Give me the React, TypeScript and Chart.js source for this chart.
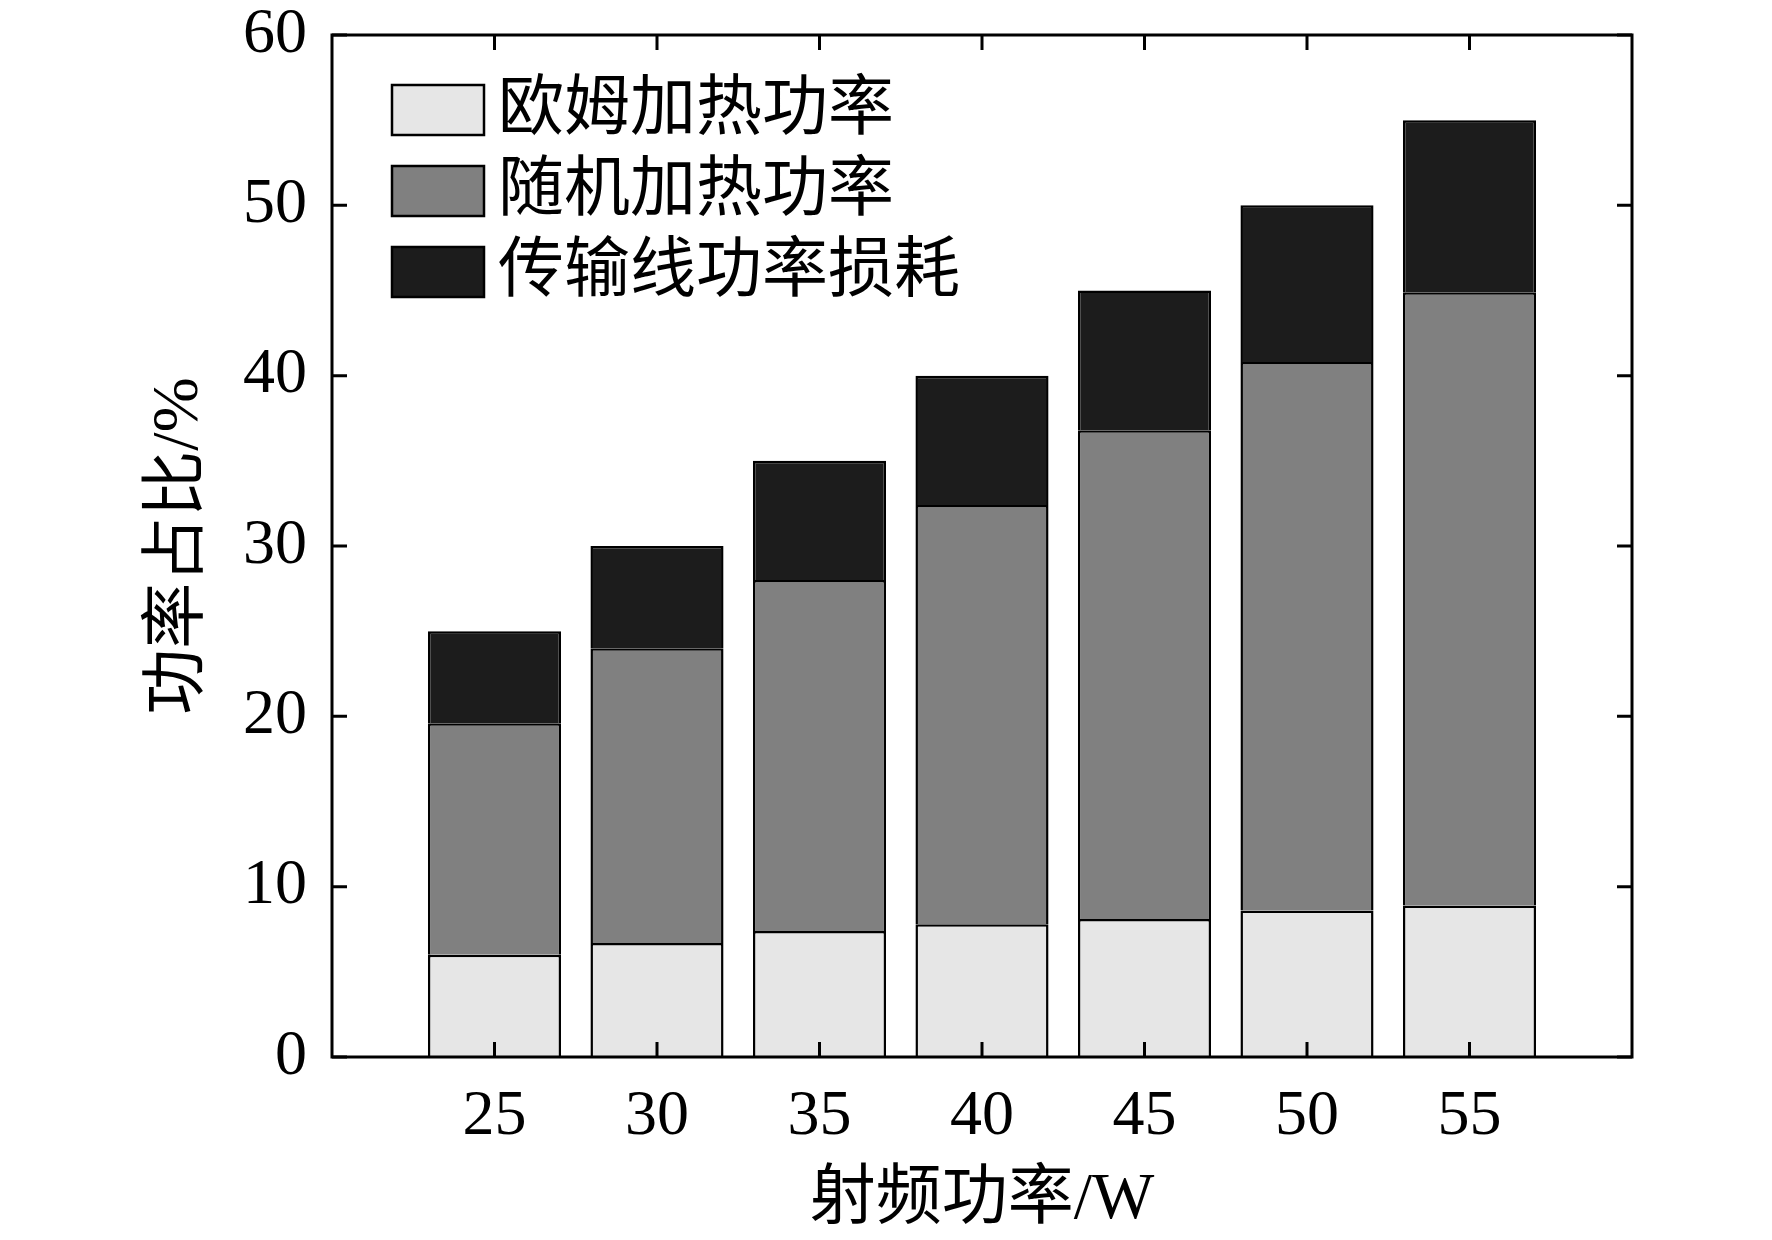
import { useEffect, useRef } from 'react';
import { Chart, registerables } from 'chart.js';

Chart.register(...registerables);

// RF power (W) on the x axis
const rfPower = [25, 30, 35, 40, 45, 50, 55];
// stacked shares (%)
const ohmicHeating = [6.0, 6.7, 7.4, 7.8, 8.1, 8.6, 8.9];
const randomHeating = [13.6, 17.3, 20.6, 24.6, 28.7, 32.2, 36.0];
const lineLoss = [5.4, 6.0, 7.0, 7.6, 8.2, 9.2, 10.1];
const yTicks = [0, 10, 20, 30, 40, 50, 60];
const seriesNames = ['欧姆加热功率', '随机加热功率', '传输线功率损耗'];
const seriesColors = ['#e6e6e6', '#808080', '#1c1c1c'];

const FONT = "'Liberation Serif', 'Times New Roman', 'Noto Sans CJK SC', serif";

// box around the plot with inward ticks on all four sides
const framePlugin = {
  id: 'frame',
  afterDraw(chart: any) {
    const { ctx, chartArea: a, scales } = chart;
    const len = 15;
    ctx.save();
    ctx.strokeStyle = '#000';
    ctx.lineWidth = 3;
    ctx.beginPath();
    rfPower.forEach((v) => {
      const px = scales.x.getPixelForValue(v);
      ctx.moveTo(px, a.bottom);
      ctx.lineTo(px, a.bottom - len);
      ctx.moveTo(px, a.top);
      ctx.lineTo(px, a.top + len);
    });
    yTicks.forEach((v) => {
      const py = scales.y.getPixelForValue(v);
      ctx.moveTo(a.left, py);
      ctx.lineTo(a.left + len, py);
      ctx.moveTo(a.right, py);
      ctx.lineTo(a.right - len, py);
    });
    ctx.stroke();
    ctx.strokeRect(a.left, a.top, a.right - a.left, a.bottom - a.top);
    ctx.restore();
  },
};

// legend drawn inside the top-left of the plot
const legendPlugin = {
  id: 'insideLegend',
  afterDraw(chart: any) {
    const { ctx, chartArea: a } = chart;
    ctx.save();
    ctx.font = `66px ${FONT}`;
    ctx.textBaseline = 'middle';
    chart.data.datasets.forEach((ds: any, i: number) => {
      const top = a.top + 50 + i * 81;
      const left = a.left + 60;
      ctx.fillStyle = ds.backgroundColor;
      ctx.fillRect(left, top, 92, 50);
      ctx.lineWidth = 2.5;
      ctx.strokeStyle = '#000';
      ctx.strokeRect(left, top, 92, 50);
      ctx.fillStyle = '#000';
      ctx.fillText(ds.label, left + 106, top + 27);
    });
    ctx.restore();
  },
};

export default function App() {
  const canvasRef = useRef<HTMLCanvasElement>(null);

  useEffect(() => {
    if (!canvasRef.current) return;
    const series = [ohmicHeating, randomHeating, lineLoss];

    const chart = new Chart(canvasRef.current, {
      type: 'bar',
      data: {
        datasets: series.map((vals, i) => ({
          label: seriesNames[i],
          data: rfPower.map((p, j) => ({ x: p, y: vals[j] })),
          backgroundColor: seriesColors[i],
          borderColor: '#000',
          borderWidth: 2.5,
          barPercentage: 0.91,
          categoryPercentage: 0.9,
        })),
      },
      options: {
        responsive: true,
        maintainAspectRatio: false,
        animation: false,
        layout: { padding: { left: 0, right: 140, top: 35, bottom: 0 } },
        plugins: {
          legend: { display: false },
          tooltip: { enabled: false },
        },
        scales: {
          x: {
            type: 'linear',
            min: 20,
            max: 60,
            offset: false,
            stacked: true,
            grid: { display: false, drawTicks: true, tickLength: 22 },
            border: { display: false },
            afterBuildTicks: (s: any) => {
              s.ticks = rfPower.map((v) => ({ value: v }));
            },
            afterFit: (s: any) => {
              s.height = 183;
            },
            ticks: {
              color: '#000',
              padding: 0,
              maxRotation: 0,
              autoSkip: false,
              font: { family: FONT, size: 64 },
            },
            title: {
              display: true,
              text: '射频功率/W',
              color: '#000',
              padding: { top: 0, bottom: 0 },
              font: { family: FONT, size: 66 },
            },
          },
          y: {
            type: 'linear',
            min: 0,
            max: 60,
            stacked: true,
            grid: { display: false, drawTicks: true, tickLength: 25 },
            border: { display: false },
            afterBuildTicks: (s: any) => {
              s.ticks = yTicks.map((v) => ({ value: v }));
            },
            afterFit: (s: any) => {
              s.width = 332;
            },
            ticks: {
              color: '#000',
              padding: 0,
              font: { family: FONT, size: 64, lineHeight: 1 },
            },
            title: {
              display: true,
              text: '功率占比/%',
              color: '#000',
              padding: { top: 140, bottom: 0 },
              font: { family: FONT, size: 66 },
            },
          },
        },
      },
      plugins: [framePlugin, legendPlugin],
    });

    return () => {
      chart.destroy();
    };
  }, []);

  return (
    <div style={{ position: 'fixed', left: 0, top: 0, width: 1772, height: 1240, background: '#fff' }}>
      <canvas ref={canvasRef} />
    </div>
  );
}
